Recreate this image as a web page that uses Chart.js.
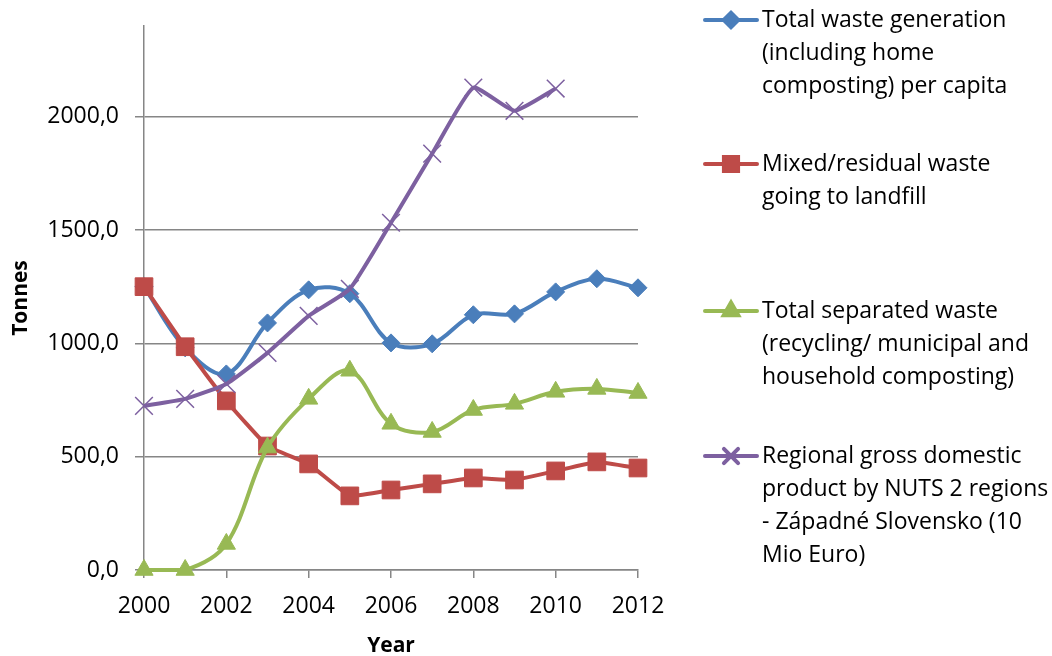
<!DOCTYPE html>
<html>
<head>
<meta charset="utf-8">
<script src="https://cdn.jsdelivr.net/npm/chart.js@4.4.1/dist/chart.umd.min.js"></script>
<style>
  html, body { margin: 0; padding: 0; background: #fff; }
  #wrap { width: 1052px; height: 656px; position: relative; }
</style>
</head>
<body>
<div id="wrap"><canvas id="wasteChart"></canvas></div>
<script>
// yearly series, tonnes (GDP series in 10 Mio Euro)
const years = [2000, 2001, 2002, 2003, 2004, 2005, 2006, 2007, 2008, 2009, 2010, 2011, 2012];
const totalWaste = [1250, 980, 865, 1090, 1236, 1219, 1002, 998, 1126, 1130, 1227, 1285, 1245];
const landfillWaste = [1250, 985, 746, 547, 468, 327, 353, 380, 406, 397, 437, 477, 450];
const separatedWaste = [0, 0, 115, 540, 755, 879, 645, 609, 706, 733, 786, 799, 781];
const regionalGdp = [724, 755, 821, 958, 1121, 1240, 1532, 1837, 2128, 2026, 2124, null, null];

const yTicks = [0, 500, 1000, 1500, 2000];

const seriesNames = [
  ["Total waste generation", "(including home", "composting) per capita"],
  ["Mixed/residual waste", "going to landfill"],
  ["Total separated waste", "(recycling/ municipal and", "household composting)"],
  ["Regional gross domestic", "product by NUTS 2 regions", "- Západné Slovensko (10", "Mio Euro)"]
];

const BLUE = "#4a7ebb";
const RED = "#be4b48";
const GREEN = "#98b954";
const PURPLE = "#7d60a0";
const FONT = "'Open Sans', 'DejaVu Sans', sans-serif";

function toPoints(values) {
  return years.map((y, i) => ({ x: y, y: values[i] }));
}

// legend on the right, multi-line entries
const sideLegend = {
  id: "sideLegend",
  afterDraw(chart) {
    const ctx = chart.ctx;
    const tops = [20, 164, 311, 456];
    ctx.save();
    chart.data.datasets.forEach((ds, i) => {
      const y = tops[i];
      ctx.strokeStyle = ds.borderColor;
      ctx.lineWidth = 4;
      ctx.lineCap = "round";
      ctx.beginPath();
      ctx.moveTo(705, y);
      ctx.lineTo(757, y);
      ctx.stroke();
      ctx.fillStyle = ds.pointBackgroundColor;
      ctx.strokeStyle = ds.pointBorderColor;
      Chart.helpers.drawPoint(ctx, {
        pointStyle: ds.pointStyle,
        radius: ds.pointRadius * 0.8,
        rotation: 0,
        borderWidth: ds.pointBorderWidth
      }, 731, y);
      ctx.fillStyle = "#000";
      ctx.font = "23px " + FONT;
      ctx.textBaseline = "middle";
      ctx.textAlign = "left";
      seriesNames[i].forEach((line, k) => {
        ctx.fillText(line, 762, y + k * 33);
      });
    });
    ctx.restore();
  }
};

new Chart(document.getElementById("wasteChart"), {
  type: "line",
  data: {
    datasets: [
      {
        label: seriesNames[0].join(" "),
        data: toPoints(totalWaste),
        borderColor: BLUE,
        borderWidth: 4,
        tension: 0.35,
        pointStyle: "rectRot",
        pointRadius: 9,
        pointBackgroundColor: BLUE,
        pointBorderColor: BLUE,
        pointBorderWidth: 1,
        clip: false,
        order: 4
      },
      {
        label: seriesNames[1].join(" "),
        data: toPoints(landfillWaste),
        borderColor: RED,
        borderWidth: 4,
        tension: 0.1,
        pointStyle: "rect",
        pointRadius: 12.5,
        pointBackgroundColor: RED,
        pointBorderColor: RED,
        pointBorderWidth: 1,
        clip: false,
        order: 3
      },
      {
        label: seriesNames[2].join(" "),
        data: toPoints(separatedWaste),
        borderColor: GREEN,
        borderWidth: 4,
        tension: 0.35,
        pointStyle: "triangle",
        pointRadius: 10.5,
        pointBackgroundColor: GREEN,
        pointBorderColor: GREEN,
        pointBorderWidth: 1,
        clip: false,
        order: 2
      },
      {
        label: seriesNames[3].join(" "),
        data: toPoints(regionalGdp),
        borderColor: PURPLE,
        borderWidth: 4,
        tension: 0.15,
        spanGaps: false,
        pointStyle: "crossRot",
        pointRadius: 12.5,
        pointBackgroundColor: PURPLE,
        pointBorderColor: PURPLE,
        pointBorderWidth: 1.5,
        clip: false,
        order: 1
      }
    ]
  },
  options: {
    responsive: true,
    maintainAspectRatio: false,
    animation: false,
    layout: { padding: { top: 26, right: 414, left: 0, bottom: 0 } },
    plugins: {
      legend: { display: false },
      tooltip: { enabled: false }
    },
    scales: {
      x: {
        type: "linear",
        min: 2000,
        max: 2012,
        afterFit(scale) { scale.height = 86; },
        afterBuildTicks(scale) {
          scale.ticks = years.filter(y => y % 2 === 0).map(v => ({ value: v }));
        },
        ticks: {
          color: "#000",
          font: { family: FONT, size: 23 },
          padding: 15,
          maxRotation: 0,
          callback: v => String(v)
        },
        grid: {
          drawOnChartArea: false,
          color: "#868686",
          lineWidth: 1.5,
          tickLength: 8
        },
        border: { color: "#868686", width: 1.5 },
        title: {
          display: true,
          text: "Year",
          color: "#000",
          font: { family: FONT, size: 21, weight: "bold" },
          padding: { top: 0, bottom: -3 }
        }
      },
      y: {
        min: 0,
        max: 2400,
        afterFit(scale) {
          scale.width = 144;
          scale.paddingTop = 0;
          scale.paddingBottom = 0;
        },
        afterBuildTicks(scale) {
          scale.ticks = yTicks.map(v => ({ value: v }));
        },
        ticks: {
          color: "#000",
          font: { family: FONT, size: 23 },
          padding: 16,
          callback: v => v.toFixed(1).replace(".", ",")
        },
        grid: {
          color: "#868686",
          lineWidth: 1.5,
          tickLength: 9
        },
        border: { color: "#868686", width: 1.5 },
        title: {
          display: true,
          text: "Tonnes",
          color: "#000",
          font: { family: FONT, size: 21, weight: "bold" },
          padding: { top: 8, bottom: 0 }
        }
      }
    }
  },
  plugins: [sideLegend]
});
</script>
</body>
</html>
